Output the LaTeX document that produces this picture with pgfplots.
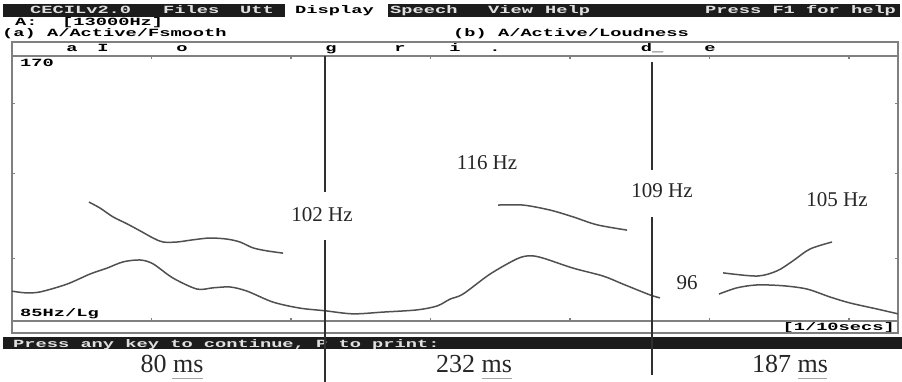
\documentclass[border=0pt]{standalone}
\usepackage{pgfplots}
\pgfplotsset{compat=1.18}
\usepackage{fontspec}
\setmainfont{Liberation Serif}
\newfontfamily\dos[FakeStretch=1.7]{Liberation Mono}
\usetikzlibrary{decorations.pathmorphing}
\definecolor{curve}{HTML}{505050}
\definecolor{frame}{HTML}{808080}
\definecolor{bar}{HTML}{1C1C1C}
\definecolor{vline}{HTML}{303030}
\newcommand{\dosf}{\dos\bfseries\fontsize{11}{11}\selectfont}
\begin{document}
\begin{tikzpicture}[x=1pt,y=-1pt]
\path[use as bounding box] (0,0) rectangle (902,382);
% menu bar
\fill[bar] (3,4) rectangle (285,17);
\fill[bar] (388,4) rectangle (900,17);
\begin{scope}[every node/.style={inner sep=0pt, anchor=base west, font=\dosf}]
\node[text=white!88!black] at (30,14) {CECILv2.0};
\node[text=white!88!black] at (163,14) {Files};
\node[text=white!88!black] at (240,14) {Utt};
\node[text=black] at (295,14) {Display};
\node[text=white!88!black] at (390,14) {Speech};
\node[text=white!88!black] at (488,14) {View};
\node[text=white!88!black] at (545,14) {Help};
\node[text=white!88!black] at (705,14) {Press F1 for help};
\node at (15,26) {A:};
\node at (62,26) {[13000Hz]};
\node at (2,37) {(a) A/Active/Fsmooth};
\node at (453,37) {(b) A/Active/Loudness};
\node at (20,67) {170};
\node at (20,316) {85Hz/Lg};
\node[anchor=base east] at (895,330) {[1/10secs]};
\end{scope}
\begin{scope}[every node/.style={inner sep=0pt, anchor=base, font=\dosf}]
\node at (72,52) {a};
\node at (103,52) {I};
\node at (182,52) {o};
\node at (331,52) {g};
\node at (400,52) {r};
\node at (455,52) {i};
\node at (495,52) {.};
\node at (652,52) {d\_};
\node at (710,52) {e};
\end{scope}
% outer frame
\draw[frame, line width=1.4pt] (12,42) rectangle (898,333);
% bottom black bar
\fill[bar] (3,337) rectangle (902,349);
\node[inner sep=0pt, anchor=base west, font=\dosf, text=white!88!black] at (13,347) {Press any key to continue, P to print:};
\begin{axis}[
  at={(12pt,-321pt)}, anchor=south west,
  width=886pt, height=265pt, scale only axis,
  xmin=0, xmax=635.1, ymode=log, ymin=85, ymax=170,
  xtick={100,200,300,400,500,600}, ytick={100,125,150},
  minor xtick={}, minor ytick={},
  xticklabels={}, yticklabels={},
  tick align=inside, major tick length=3pt,
  tick style={frame, line width=1.2pt},
  axis line style={frame, line width=1.4pt},
]
\addplot[curve, line width=1.5pt, smooth, tension=0.5] coordinates {
(0,91.9)(9.3,91.5)(20.1,91.7)(39.4,93.6)(55.9,96.1)(68.1,97.6)(79.6,99.2)(91.8,99.7)(101.1,98.7)(115.4,95.1)(132.6,92.4)(144.1,92.7)(156.3,92.9)(168.5,91.9)(187.1,89.3)(206.5,87.9)(224.4,87.3)(244.4,86.6)(266.0,87.0)(290.3,87.5)(304.7,88.4)(314.0,90.0)(323.3,91.2)(342.7,96.1)(362.0,100.0)(371.3,100.8)(380.6,100.2)(402.2,97.6)(423.7,95.6)(438.0,93.6)(457.3,91.0)(464.5,90.3)
};
\addplot[curve, line width=1.5pt, smooth, tension=0.5] coordinates {
(55.2,116.0)(63.1,114.2)(72.4,111.6)(82.4,109.6)(91.8,107.6)(101.1,105.6)(108.2,104.5)(118.3,104.5)(129.7,105.1)(141.9,105.6)(154.1,105.3)(163.4,104.5)(172.8,102.9)(182.8,102.1)(194.3,101.5)
};
\addplot[curve, line width=1.5pt, smooth, tension=0.5] coordinates {
(348.4,115.1)(366.3,115.1)(385.7,113.6)(402.2,111.6)(419.4,109.3)(440.9,107.8)
};
\addplot[curve, line width=1.5pt, smooth, tension=0.5] coordinates {
(509.7,96.4)(534.1,95.6)(548.4,96.9)(559.9,99.5)(572.0,102.6)(587.8,104.5)
};
\addplot[curve, line width=1.5pt, smooth, tension=0.5] coordinates {
(506.8,91.2)(519.7,92.7)(534.1,93.4)(552.7,93.2)(569.9,92.4)(586.4,90.5)(600.7,89.1)(620.1,87.7)(635.1,86.6)
};
\end{axis}
% segment boundaries
\draw[vline, line width=1.6pt] (325,56) -- (325,192);
\draw[vline, line width=1.6pt] (325,240) -- (325,382);
\draw[vline, line width=1.6pt] (652,62) -- (652,170);
\draw[vline, line width=1.6pt] (652,217) -- (652,375);
\begin{scope}[every node/.style={inner sep=0pt, font=\fontsize{21}{21}\selectfont, text=black!85}]
\node at (322,215) {102 Hz};
\node at (487,163) {116 Hz};
\node at (662,191) {109 Hz};
\node at (837,200) {105 Hz};
\node at (687,283) {96};
\end{scope}
\begin{scope}[every node/.style={inner sep=0pt, font=\fontsize{26}{26}\selectfont, text=black!85}]
\node at (172,364) {80 ms};
\node at (474,364) {232 ms};
\node at (790,364) {187 ms};
\end{scope}
\begin{scope}[gray!70, line width=0.6pt, decorate, decoration={snake, amplitude=0.8pt, segment length=2.5pt}]
\draw (172,378) -- (203,378);
\draw (482,378) -- (512,378);
\draw (798,378) -- (827,378);
\end{scope}
\end{tikzpicture}
\end{document}
